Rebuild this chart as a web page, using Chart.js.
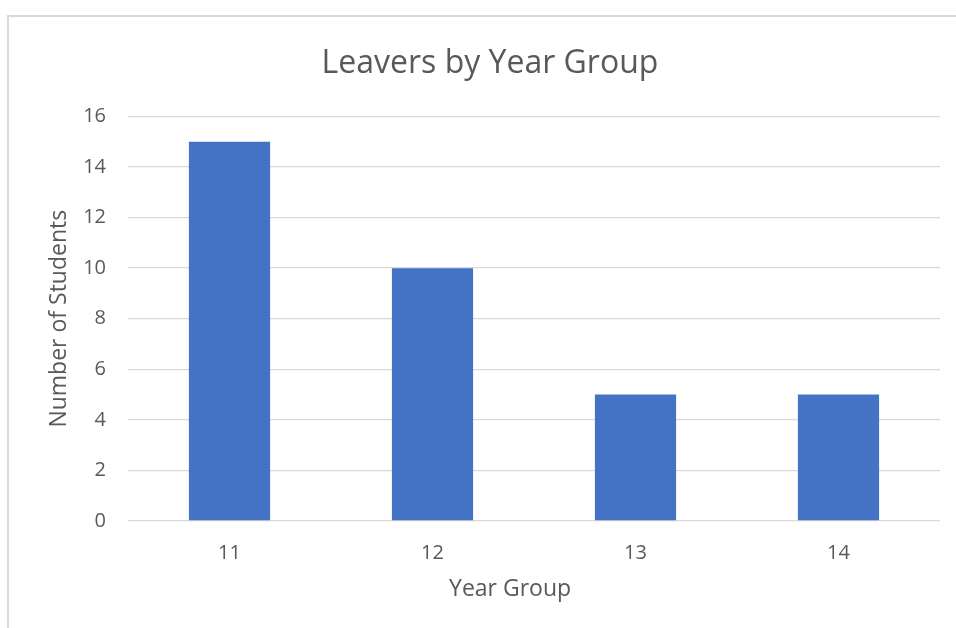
<!DOCTYPE html>
<html>
<head>
<meta charset="utf-8">
<script src="https://cdn.jsdelivr.net/npm/chart.js@4/dist/chart.umd.min.js"></script>
<style>
  html, body { margin: 0; padding: 0; background: #fff; }
  #frame {
    position: absolute; left: 7px; top: 15px; width: 949px; height: 613px;
    border-left: 2px solid #d9d9d9; border-top: 2px solid #d9d9d9;
    box-sizing: border-box;
  }
  #wrap { position: absolute; left: 0; top: 0; width: 956px; height: 628px; }
</style>
</head>
<body>
<div id="frame"></div>
<div id="wrap"><canvas id="myChart"></canvas></div>
<script>
const yearGroups = ['11', '12', '13', '14'];
const leavers = [15, 10, 5, 5];
const yTicks = [0, 2, 4, 6, 8, 10, 12, 14, 16];

const grey = '#595959';
const fontFamily = "'Open Sans', sans-serif";

const ctx = document.getElementById('myChart').getContext('2d');
new Chart(ctx, {
  type: 'bar',
  data: {
    labels: yearGroups,
    datasets: [{
      label: 'Number of Students',
      data: leavers,
      backgroundColor: '#4472C4',
      borderWidth: 0,
      categoryPercentage: 1,
      barPercentage: 0.4
    }]
  },
  options: {
    animation: false,
    events: [],
    responsive: true,
    maintainAspectRatio: false,
    layout: {
      padding: { left: 40, right: 16, top: 20, bottom: 20 }
    },
    plugins: {
      legend: { display: false },
      tooltip: { enabled: false },
      title: {
        display: true,
        text: 'Leavers by Year Group',
        color: grey,
        font: { family: fontFamily, size: 32, weight: 'normal' },
        padding: { top: 25, bottom: 33 }
      }
    },
    scales: {
      x: {
        grid: { display: false, drawTicks: false },
        border: { display: false },
        ticks: {
          color: grey,
          padding: 20,
          font: { family: fontFamily, size: 20 }
        },
        title: {
          display: true,
          // trailing spaces pull the title toward the chart centre like the original
          text: 'Year Group\u00a0\u00a0\u00a0\u00a0\u00a0\u00a0\u00a0\u00a0',
          color: grey,
          font: { family: fontFamily, size: 23 },
          padding: { top: 0, bottom: 5 }
        },
        afterFit: function(scale) { scale.height = 87; }
      },
      y: {
        min: 0,
        max: 16,
        afterBuildTicks: function(scale) {
          scale.ticks = yTicks.map(v => ({ value: v }));
        },
        grid: { color: '#d9d9d9', lineWidth: 1.3, drawTicks: false },
        border: { display: false },
        ticks: {
          color: grey,
          padding: 22,
          font: { family: fontFamily, size: 20 }
        },
        title: {
          display: true,
          text: 'Number of Students',
          color: grey,
          font: { family: fontFamily, size: 23 },
          padding: { top: 6, bottom: 0 }
        },
        afterFit: function(scale) { scale.width = 88; }
      }
    }
  }
});
</script>
</body>
</html>
